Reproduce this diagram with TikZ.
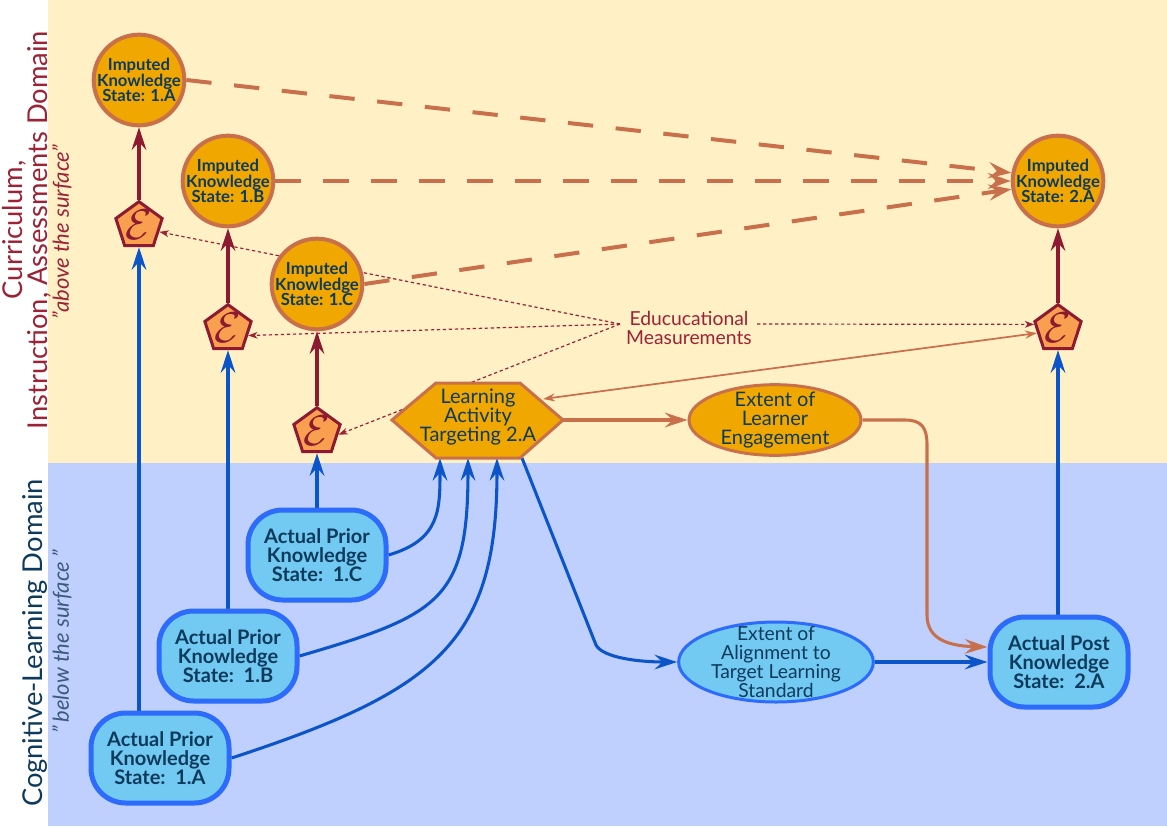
\documentclass[tikz,border=0pt]{standalone}
\usepackage{fontspec}
\setmainfont{Lato}
\usetikzlibrary{shapes.geometric,arrows.meta,calc}
\pgfdeclarelayer{bg}
\pgfdeclarelayer{mid}
\pgfsetlayers{bg,mid,main}
\definecolor{ybg}{HTML}{FFF0C6}
\definecolor{bbg}{HTML}{BFD0FE}
\definecolor{gold}{HTML}{F0A800}
\definecolor{terra}{HTML}{C8704C}
\definecolor{lorange}{HTML}{F9A050}
\definecolor{dred}{HTML}{8C1A30}
\definecolor{crim}{HTML}{9B2335}
\definecolor{navy}{HTML}{0E3A5C}
\definecolor{bline}{HTML}{0C55C8}
\definecolor{bfill}{HTML}{72C9F2}
\definecolor{bbord}{HTML}{2D6BFA}
\definecolor{grayblue}{HTML}{3D5A7E}
\begin{document}
\begin{tikzpicture}[x=0.75pt,y=-0.75pt,
  imp/.style={circle, draw=terra, fill=gold, line width=3pt, minimum size=68pt, inner sep=-5pt, align=center, text=navy, font=\bfseries\fontsize{12.5}{11.7}\selectfont},
  pent/.style={regular polygon, regular polygon sides=5, draw=dred, fill=lorange, line width=2.25pt, minimum size=36.5pt, inner sep=0pt, label={[text=dred, font=\fontsize{24}{24}\selectfont, scale=1.3, yshift=1pt]center:$\mathcal{E}$}},
  apbox/.style={rectangle, rounded corners=26pt, draw=bbord, fill=bfill, line width=3.75pt, minimum width=103.5pt, minimum height=67.5pt, inner sep=0pt, align=center, text=navy, font=\bfseries\fontsize{15}{14.5}\selectfont},
  engst/.style={ellipse, draw=terra, fill=gold, line width=2.25pt, minimum width=129pt, minimum height=53pt, inner xsep=0pt, inner ysep=-5pt, align=center, text=navy, font=\fontsize{15}{14.4}\selectfont},
  alnst/.style={ellipse, draw=bbord, fill=bfill, line width=2.25pt, minimum width=146pt, minimum height=60pt, inner xsep=0pt, inner ysep=-9pt, align=center, text=navy, font=\fontsize{14.5}{14.4}\selectfont},
  hexst/.style={draw=terra, fill=gold, line width=2.25pt, line join=miter},
  bluearr/.style={draw=bline, line width=2.3pt, -{Stealth[length=17pt,width=11pt,inset=6pt]}},
  redarr/.style={draw=dred, line width=2.3pt, -{Stealth[length=17pt,width=11pt,inset=6pt]}},
  orarr/.style={draw=terra, line width=2.3pt, -{Stealth[length=17pt,width=11pt,inset=6pt]}},
  dasharr/.style={draw=terra, line width=3pt, dash pattern=on 19pt off 17pt, -{Stealth[length=17pt,width=12pt,inset=6pt]}},
  dotarr/.style={draw=crim, line width=0.9pt, dash pattern=on 2.5pt off 2pt, -{Stealth[length=7pt,width=5pt,inset=2pt]}},
  thinarr/.style={draw=terra, line width=1.3pt, {Stealth[length=9pt,width=6pt,inset=3pt]}-{Stealth[length=9pt,width=6pt,inset=3pt]}}
]
\useasboundingbox (0,0) rectangle (1167,826);
\begin{pgfonlayer}{bg}
\fill[white] (0,0) rectangle (1167,826);
\fill[ybg] (48,0) rectangle (1167,463);
\fill[bbg] (48,463) rectangle (1167,826);
\end{pgfonlayer}

% side labels
\node[rotate=90, align=center, text=crim, font=\fontsize{20.5}{17.5}\selectfont] (dom1) at (27,230) {Curriculum,\\Instruction, Assessments Domain};
\node[rotate=90, text=crim, font=\itshape\fontsize{16.5}{16}\selectfont] (above) at (62,232) {"above the surface"};
\node[rotate=90, text=navy, font=\fontsize{20.5}{17.5}\selectfont] (dom2) at (35,643) {Cognitive-Learning Domain};
\node[rotate=90, text=grayblue, font=\itshape\fontsize{16.5}{16}\selectfont] (below) at (62,642) {"\,below the surface\,"};

% imputed knowledge states
\node[imp] (ik1a) at (139,80) {Imputed\\Knowledge\\State: 1.A};
\node[imp] (ik1b) at (228,181) {Imputed\\Knowledge\\State: 1.B};
\node[imp] (ik1c) at (317,284) {Imputed\\Knowledge\\State: 1.C};
\node[imp] (ik2a) at (1058,181) {Imputed\\Knowledge\\State: 2.A};

% measurement pentagons
\node[pent] (p1a) at (139,226) {};
\node[pent] (p1b) at (228,329) {};
\node[pent] (p1c) at (317,432) {};
\node[pent] (p2a) at (1058,329) {};

% actual knowledge states
\node[apbox] (ap1a) at (160,758) {Actual Prior\\Knowledge\\State:\ \ 1.A};
\node[apbox] (ap1b) at (228,656) {Actual Prior\\Knowledge\\State:\ \ 1.B};
\node[apbox] (ap1c) at (317,555) {Actual Prior\\Knowledge\\State:\ \ 1.C};
\node[apbox] (apost) at (1059,662) {Actual Post\\Knowledge\\State:\ \ 2.A};

% ellipses
\node[engst] (eng) at (775,420) {Extent of\\Learner\\Engagement};
\node[alnst] (aln) at (776,662) {Extent of\\Alignment to\\Target Learning\\Standard};

% learning activity hexagon
\coordinate (hexL) at (392,420);
\coordinate (hexTL) at (436,383);
\coordinate (hexTR) at (520,383);
\coordinate (hexR) at (563,420);
\coordinate (hexBR) at (520,458);
\coordinate (hexBL) at (436,458);
\draw[hexst] (hexL) -- (hexTL) -- (hexTR) -- (hexR) -- (hexBR) -- (hexBL) -- cycle;
\node[align=center, text=navy, font=\fontsize{15}{14.4}\selectfont] (hex) at (478,417) {Learning\\Activity\\Targeting 2.A};
\coordinate (hb1) at (440,458);
\coordinate (hb2) at (468,458);
\coordinate (hb3) at (497,458);
\coordinate (hb4) at (522,458);
\coordinate (hexTRe) at (543,399);

% measurements label
\node[align=center, text=crim, font=\fontsize{14.5}{13.7}\selectfont] (meas) at (689,328) {Educucational\\Measurements};
\coordinate (emL) at (620,324);
\coordinate (emR) at (757,324);

\begin{pgfonlayer}{mid}
% dashed imputation links
\draw[dasharr] (ik1a.east) -- (ik2a.170);
\draw[dasharr] (ik1b.east) -- (ik2a.180);
\draw[dasharr] (ik1c.east) -- (ik2a.190);
% dotted measurement links
\draw[dotarr] (emL) -- (p1a.-16);
\draw[dotarr] (emL) -- (p1b.-18);
\draw[dotarr] (emL) -- (p1c.-7);
\draw[dotarr] (emR) -- (p2a.169);
% thin double arrow
\draw[thinarr] (p2a.191) -- (hexTRe);
% measurement to imputed
\draw[redarr] (p1a) -- (ik1a);
\draw[redarr] (p1b) -- (ik1b);
\draw[redarr] (p1c) -- (ik1c);
\draw[redarr] (p2a) -- (ik2a);
% actual to measurement
\draw[bluearr] (ap1a.north -| p1a) -- (p1a.south);
\draw[bluearr] (ap1b) -- (p1b);
\draw[bluearr] (ap1c) -- (p1c);
\draw[bluearr] (apost.north -| p2a) -- (p2a.south);
% actual prior to activity
\draw[bluearr] (ap1c.east) .. controls (440,540) and (440,510) .. (hb1);
\draw[bluearr] (ap1b.east) .. controls (440,615) and (468,600) .. (hb2);
\draw[bluearr] (ap1a.east) .. controls (440,690) and (497,640) .. (hb3);
% activity to alignment
\draw[bluearr] (hb4) -- (596,645) .. controls (603,658) and (640,662) .. (aln.west);
\draw[bluearr] (aln) -- (apost);
% activity to engagement
\draw[orarr] (hexR) -- (eng.west);
\draw[orarr] (eng.east) -- (905,420) .. controls (922,420) and (927,428) .. (927,445) -- (927,615) .. controls (927,640) and (950,646) .. ($(apost.west)+(0,-15)$);
\end{pgfonlayer}
\end{tikzpicture}
\end{document}
